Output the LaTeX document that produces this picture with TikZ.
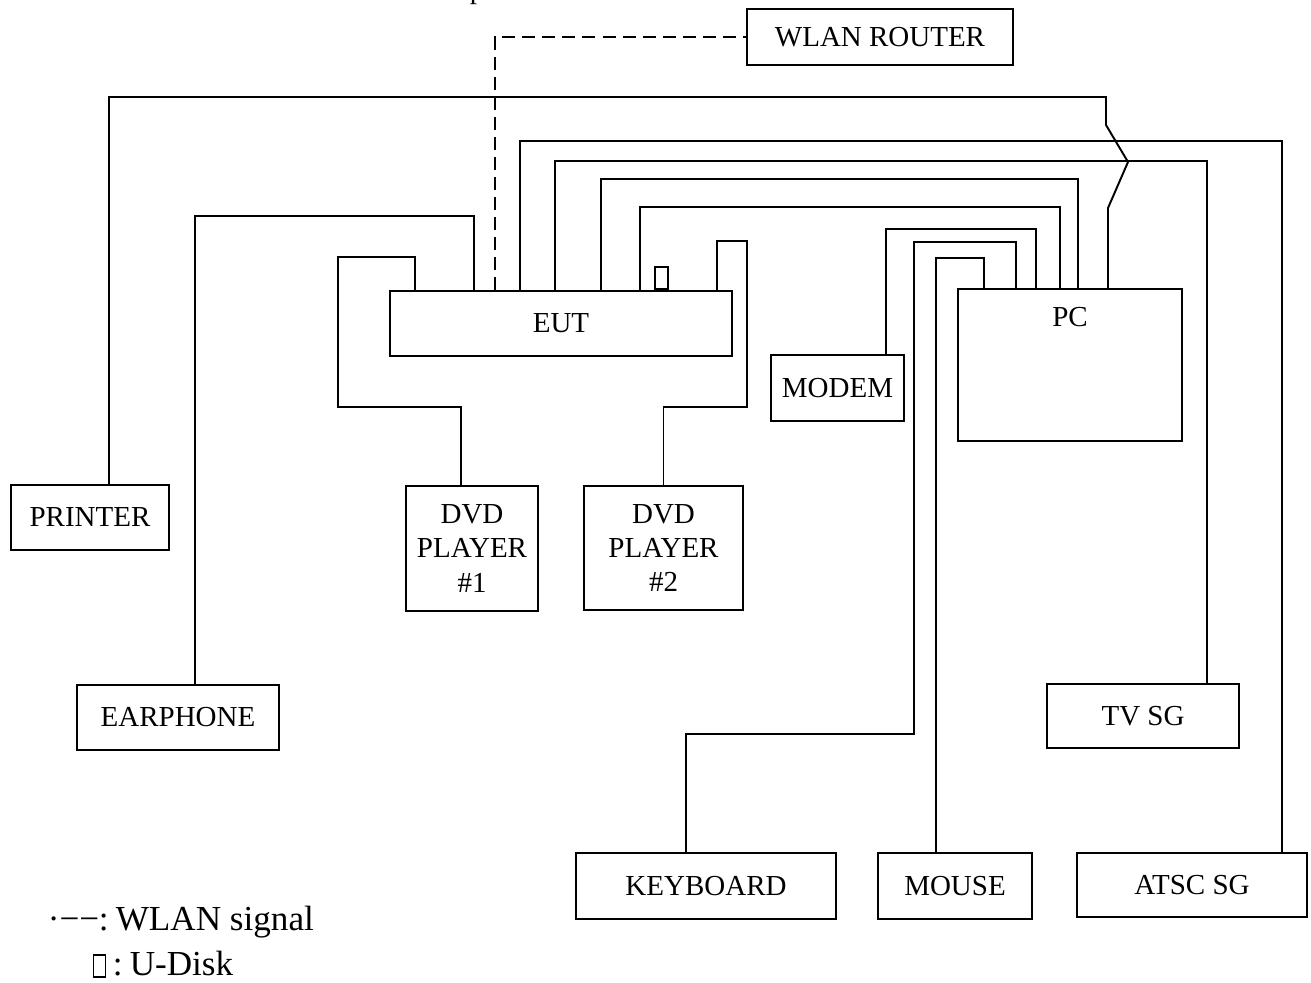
\documentclass[tikz,border=0pt]{standalone}
\usepackage{fontspec}
\setmainfont{Liberation Serif}
\usetikzlibrary{positioning,calc}

\begin{document}
\begin{tikzpicture}[x=0.02cm, y=-0.02cm, line width=1.1pt,
  every node/.style={font=\fontsize{16.5}{19.5}\selectfont},
  unit/.style 2 args={draw, inner sep=0pt, align=center, minimum width=#1*0.02cm, minimum height=#2*0.02cm},
  key/.style={anchor=base west, inner sep=0pt, font=\fontsize{20}{24}\selectfont},
  wlan/.style={dash pattern=on 7.4pt off 4pt}]
\useasboundingbox (0,0) rectangle (1311,983);
% equipment
\node[anchor=base west, inner sep=0pt] (cut) at (469,-1) {p};
\node[unit={266}{56}]  (router)   at (880,37)    {WLAN ROUTER};
\node[unit={158}{65}]  (printer)  at (90,517.5)  {PRINTER};
\node[unit={202}{65}]  (earphone) at (178,717.5) {EARPHONE};
\node[unit={342}{65}]  (eut)      at (561,323.5) {EUT};
\node[unit={132}{125}] (dvda)     at (472,548.5) {DVD\\PLAYER\\\#1};
\node[unit={159}{124}] (dvdb)     at (663.5,548) {DVD\\PLAYER\\\#2};
\node[unit={133}{66}]  (modem)    at (837.5,388) {MODEM};
\node[unit={224}{152}, label={[anchor=center, yshift=-0.58cm]north:PC}] (pc) at (1070,365) {};
\node[unit={192}{64}]  (tvsg)     at (1143,716)  {TV SG};
\node[unit={260}{66}]  (keyboard) at (706,886)   {KEYBOARD};
\node[unit={154}{66}]  (mouse)    at (955,886)   {MOUSE};
\node[unit={230}{64}]  (atsc)     at (1192,885)  {ATSC SG};
\node[unit={13}{22}, anchor=south] (udisk) at (661.5,0 |- eut.north) {};
% cables
\draw[wlan] (495,0 |- eut.north) |- (router.west);
\draw (109,0 |- printer.north) |- (1106,97) -- (1106,125) -- (1128,162) -- (1108,208) -- (1108,0 |- pc.north);
\draw (195,0 |- earphone.north) |- (474,216) -- (474,0 |- eut.north);
\draw (415,0 |- eut.north) |- (338,257) |- (461,407) -- (461,0 |- dvda.north);
\draw (717,0 |- eut.north) |- (747,241) |- (dvdb.north |- 0,407) -- (dvdb.north);
\draw (520,0 |- eut.north) |- (1282,141) -- (1282,0 |- atsc.north);
\draw (555,0 |- eut.north) |- (1207,161) -- (1207,0 |- tvsg.north);
\draw (601,0 |- eut.north) |- (1078,179) -- (1078,0 |- pc.north);
\draw (640,0 |- eut.north) |- (1060,207) -- (1060,0 |- pc.north);
\draw (1036,0 |- pc.north) |- (886,229) -- (886,0 |- modem.north);
\draw (1016,0 |- pc.north) |- (914,242) |- (686,734) -- (686,0 |- keyboard.north);
\draw (984,0 |- pc.north) |- (936,258) -- (936,0 |- mouse.north);
% legend
\node[key] (wlandash) at (47,930) {·−−};
\node[key] (wlankey) at (98,930) {:\hspace{4pt}WLAN signal};
\node[unit={12}{22}, line width=0.6pt] (udiskkey) at (99.5,966) {};
\node[key] (udisklabel) at (112,975) {:\hspace{4pt}U-Disk};
\end{tikzpicture}
\end{document}
